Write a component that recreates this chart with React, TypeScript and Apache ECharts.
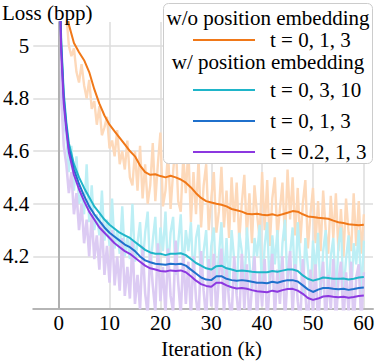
import React, { useEffect, useRef } from "react";
import * as echarts from "echarts";

// x positions (k iterations) of smoothed curves
const ITER_SMOOTH = [0, 0.5, 1, 1.5, 2, 3, 4, 5, 6, 7, 8, 9, 10, 11, 12, 13, 14, 15, 16, 17, 18, 19, 20,
  21, 22, 23, 24, 25, 26, 27, 28, 29, 30, 31, 32, 33, 34, 35, 36, 37, 38, 39, 40,
  41, 42, 43, 44, 45, 46, 47, 48, 49, 50, 51, 52, 53, 54, 55, 56, 57, 58, 59, 60];

const NOPOS_013 = [5.6, 5.45, 5.28, 5.16, 5.08, 5.01, 4.975, 4.945, 4.9, 4.835, 4.78, 4.735, 4.7, 4.675, 4.65, 4.625, 4.6, 4.58, 4.545, 4.52, 4.51, 4.512, 4.505,
  4.5, 4.506, 4.5, 4.492, 4.48, 4.462, 4.44, 4.422, 4.41, 4.405, 4.4, 4.396, 4.39, 4.38, 4.375, 4.37, 4.362, 4.36, 4.362, 4.358,
  4.356, 4.36, 4.355, 4.36, 4.366, 4.372, 4.37, 4.36, 4.352, 4.35, 4.347, 4.345, 4.343, 4.336, 4.33, 4.327, 4.322, 4.32, 4.318, 4.32];

const POS_0310 = [5.4, 5.02, 4.82, 4.71, 4.63, 4.55, 4.5, 4.46, 4.425, 4.39, 4.365, 4.34, 4.32, 4.305, 4.29, 4.28, 4.27, 4.255, 4.24, 4.225, 4.215, 4.21, 4.21,
  4.205, 4.21, 4.21, 4.212, 4.205, 4.19, 4.175, 4.165, 4.155, 4.15, 4.163, 4.165, 4.155, 4.15, 4.145, 4.147, 4.145, 4.142, 4.14, 4.14,
  4.14, 4.145, 4.142, 4.146, 4.15, 4.15, 4.145, 4.128, 4.115, 4.108, 4.113, 4.12, 4.118, 4.115, 4.115, 4.116, 4.112, 4.115, 4.12, 4.122];

const POS_013 = [5.38, 5.0, 4.8, 4.695, 4.61, 4.53, 4.475, 4.43, 4.39, 4.36, 4.335, 4.31, 4.29, 4.275, 4.26, 4.245, 4.235, 4.22, 4.2, 4.185, 4.178, 4.172, 4.17,
  4.168, 4.172, 4.17, 4.172, 4.165, 4.15, 4.135, 4.12, 4.112, 4.11, 4.125, 4.125, 4.115, 4.11, 4.108, 4.11, 4.108, 4.104, 4.1, 4.1,
  4.098, 4.104, 4.1, 4.106, 4.11, 4.11, 4.105, 4.09, 4.075, 4.065, 4.074, 4.08, 4.08, 4.077, 4.075, 4.077, 4.073, 4.076, 4.08, 4.082];

const POS_0213 = [5.36, 4.98, 4.78, 4.68, 4.595, 4.51, 4.455, 4.41, 4.37, 4.34, 4.31, 4.29, 4.27, 4.25, 4.235, 4.22, 4.21, 4.195, 4.18, 4.165, 4.155, 4.15, 4.145,
  4.143, 4.147, 4.145, 4.147, 4.14, 4.125, 4.108, 4.095, 4.088, 4.085, 4.1, 4.1, 4.09, 4.083, 4.078, 4.08, 4.077, 4.072, 4.068, 4.066,
  4.064, 4.07, 4.066, 4.072, 4.076, 4.077, 4.07, 4.058, 4.042, 4.035, 4.04, 4.048, 4.05, 4.047, 4.045, 4.047, 4.043, 4.046, 4.05, 4.052];

// raw (unsmoothed) losses, one value every 0.5k iterations from 0 to 60
const RAW_STEP = 0.5;
const NOPOS_013_RAW = [5.45, 5.32, 5.18, 5.12, 5.0, 4.96, 4.99, 4.9, 4.86, 4.93, 4.85, 4.8, 4.87, 4.76, 4.79, 4.7, 4.77, 4.66, 4.69, 4.73,
  4.61, 4.64, 4.58, 4.68, 4.55, 4.6, 4.53, 4.64, 4.5, 4.47, 4.6, 4.45, 4.62, 4.42, 4.55, 4.4, 4.47, 4.63, 4.41, 4.55,
  4.67, 4.39, 4.45, 4.6, 4.38, 4.52, 4.64, 4.41, 4.37, 4.58, 4.44, 4.61, 4.33, 4.52, 4.36, 4.57, 4.31, 4.47, 4.55, 4.3,
  4.42, 4.52, 4.29, 4.37, 4.54, 4.31, 4.45, 4.27, 4.5, 4.33, 4.48, 4.26, 4.4, 4.51, 4.28, 4.44, 4.25, 4.47, 4.36, 4.27,
  4.52, 4.3, 4.49, 4.24, 4.42, 4.5, 4.27, 4.38, 4.48, 4.26, 4.53, 4.34, 4.5, 4.28, 4.46, 4.25, 4.4, 4.49, 4.23, 4.36,
  4.46, 4.25, 4.41, 4.22, 4.45, 4.3, 4.21, 4.43, 4.27, 4.44, 4.22, 4.38, 4.2, 4.42, 4.29, 4.22, 4.44, 4.24, 4.41, 4.21, 4.36];

const POS_0310_RAW = [5.4, 4.92, 4.7, 4.66, 4.52, 4.62, 4.45, 4.58, 4.4, 4.44, 4.36, 4.55, 4.33, 4.47, 4.3, 4.36, 4.28, 4.45, 4.26, 4.34,
  4.24, 4.42, 4.23, 4.3, 4.21, 4.39, 4.2, 4.27, 4.19, 4.4, 4.18, 4.25, 4.33, 4.16, 4.29, 4.37, 4.14, 4.26, 4.35, 4.13,
  4.31, 4.22, 4.37, 4.14, 4.29, 4.35, 4.13, 4.25, 4.36, 4.14, 4.3, 4.22, 4.33, 4.11, 4.27, 4.32, 4.09, 4.22, 4.3, 4.08,
  4.24, 4.31, 4.09, 4.2, 4.33, 4.1, 4.27, 4.07, 4.3, 4.19, 4.06, 4.29, 4.22, 4.07, 4.31, 4.18, 4.06, 4.27, 4.2, 4.32,
  4.06, 4.24, 4.33, 4.07, 4.28, 4.17, 4.3, 4.06, 4.25, 4.34, 4.08, 4.21, 4.31, 4.07, 4.33, 4.19, 4.05, 4.27, 4.16, 4.04,
  4.26, 4.14, 4.29, 4.04, 4.22, 4.3, 4.05, 4.2, 4.27, 4.04, 4.24, 4.31, 4.06, 4.19, 4.28, 4.04, 4.25, 4.17, 4.3, 4.05, 4.26];

const POS_0213_RAW = [5.3, 4.8, 4.62, 4.55, 4.44, 4.52, 4.36, 4.44, 4.3, 4.4, 4.25, 4.34, 4.2, 4.36, 4.19, 4.28, 4.15, 4.33, 4.13, 4.24,
  4.1, 4.3, 4.09, 4.2, 4.07, 4.27, 4.05, 4.16, 4.04, 4.26, 4.02, 4.13, 4.0, 4.24, 4.06, 3.98, 4.22, 4.09, 3.99, 4.25,
  4.03, 4.16, 3.98, 4.23, 4.05, 3.99, 4.26, 4.1, 3.98, 4.21, 4.02, 4.18, 3.97, 4.2, 4.04, 3.96, 4.22, 4.07, 3.96, 4.19,
  4.01, 4.21, 3.97, 4.12, 4.23, 3.98, 4.16, 4.03, 3.96, 4.2, 4.05, 3.95, 4.21, 4.0, 4.17, 3.95, 4.08, 4.2, 3.96, 4.14,
  4.01, 4.19, 3.95, 4.1, 4.21, 3.97, 4.15, 4.02, 4.2, 3.96, 4.12, 4.22, 3.98, 4.17, 4.03, 3.95, 4.19, 4.06, 3.93, 4.15,
  3.98, 4.17, 3.93, 4.09, 4.18, 3.94, 4.13, 4.0, 4.19, 3.94, 4.11, 4.18, 3.95, 4.14, 3.99, 4.18, 3.93, 4.12, 4.17, 3.94, 4.14];

const X_TICKS = [0, 10, 20, 30, 40, 50, 60];
const LEGEND_HEADERS = ["w/o position embedding", "w/ position embedding"];
const LEGEND_LABELS = ["t = 0, 1, 3", "t = 0, 3, 10", "t = 0, 1, 3", "t = 0.2, 1, 3"];

const C_ORANGE = "#f07818";
const C_CYAN = "#1fb5c9";
const C_BLUE = "#1f70cc";
const C_PURPLE = "#8c38e0";
const C_ORANGE_L = "#fdd9ba";
const C_CYAN_L = "#bdeff5";
const C_PURPLE_L = "#dccbf3";

const FAMILY = "Liberation Serif";
const FS = 21;

const pairs = (xs: number[], ys: number[]) => ys.map((v, i) => [xs[i], v]);
const rawPairs = (ys: number[]) => ys.map((v, i) => [i * RAW_STEP, v]);

export default function App() {
  const ref = useRef<HTMLDivElement>(null);
  useEffect(() => {
    if (!ref.current) return;
    const chart = echarts.init(ref.current, undefined, { renderer: "svg" });
    const lineSeries = (name: string, data: number[][], color: string, width: number, z: number) => ({
      name,
      type: "line",
      data,
      showSymbol: false,
      symbol: "none",
      silent: true,
      z,
      lineStyle: { color, width },
      itemStyle: { color },
    });
    const txt = (text: string, x: number, y: number, align: string) => ({
      type: "text", z: 101, x, y, silent: true,
      style: { text, fontFamily: FAMILY, fontSize: FS, fill: "#000", textAlign: align, textVerticalAlign: "middle" },
    });
    const legendX1 = 193, legendX2 = 255, textX = 270;
    const legendRows = [
      { type: "h", text: LEGEND_HEADERS[0], y: 18 },
      { type: "l", text: LEGEND_LABELS[0], y: 40, color: C_ORANGE },
      { type: "h", text: LEGEND_HEADERS[1], y: 62 },
      { type: "l", text: LEGEND_LABELS[1], y: 90, color: C_CYAN },
      { type: "l", text: LEGEND_LABELS[2], y: 121, color: C_BLUE },
      { type: "l", text: LEGEND_LABELS[3], y: 152, color: C_PURPLE },
    ];
    const graphicEls: any[] = [
      // white backgrounds of the label margins (left strip, title area, bottom strip)
      { type: "rect", z: 50, silent: true, shape: { x: 0, y: 0, width: 30, height: 364 }, style: { fill: "#ffffff" } },
      { type: "rect", z: 50, silent: true, shape: { x: 0, y: 0, width: 160, height: 21 }, style: { fill: "#ffffff" } },
      { type: "rect", z: 50, silent: true, shape: { x: 0, y: 319, width: 379, height: 45 }, style: { fill: "#ffffff" } },
      {
        type: "rect",
        z: 100,
        shape: { x: 163.5, y: 3.5, width: 209, height: 160, r: 5 },
        style: { fill: "#ffffff", stroke: "#cccccc", lineWidth: 1 },
      },
    ];
    legendRows.forEach((r: any) => {
      if (r.type === "h") {
        graphicEls.push(txt(r.text, 268, r.y, "center"));
      } else {
        graphicEls.push({
          type: "line", z: 101,
          shape: { x1: legendX1, y1: r.y, x2: legendX2, y2: r.y },
          style: { stroke: r.color, lineWidth: 2 },
        });
        graphicEls.push(txt(r.text, textX, r.y, "left"));
      }
    });

    const xBase = { type: "value", min: -5, max: 61.8, splitNumber: 6, position: "bottom" };
    const yBase = { type: "value", min: 4.0, max: 5.09, interval: 0.2, position: "left" };

    chart.setOption({
      animation: false,
      textStyle: { fontFamily: FAMILY, fontSize: FS },
      title: {
        text: "Loss (bpp)",
        left: -3,
        top: -3,
        z: 101,
        textStyle: { fontFamily: FAMILY, fontSize: FS, fontWeight: "normal", color: "#000" },
      },
      grid: { left: 32, right: 6, top: 22, bottom: 47 },
      xAxis: [
        {
          ...xBase,
          axisLine: { show: true, lineStyle: { color: "#b5b5b5", width: 2 } },
          axisTick: { show: false },
          axisLabel: { show: false },
          splitLine: { show: true, showMinLine: false, showMaxLine: false, lineStyle: { color: "#dddddd", width: 1.5 } },
        },
        {
          ...xBase,
          z: 101,
          name: "Iteration (k)",
          nameLocation: "middle",
          nameGap: 27,
          nameTextStyle: { fontFamily: FAMILY, fontSize: FS, color: "#000", padding: [0, 0, 0, 17] },
          axisLine: { show: false },
          axisTick: { show: false },
          splitLine: { show: false },
          axisLabel: {
            fontFamily: FAMILY, fontSize: FS, color: "#000", margin: 3,
            showMinLabel: false, showMaxLabel: false,
            formatter: (v: number) => (X_TICKS.includes(v) ? String(v) : ""),
          },
        },
      ],
      yAxis: [
        {
          ...yBase,
          axisLine: { show: true, lineStyle: { color: "#b0b0b0", width: 2 } },
          axisTick: { show: false },
          axisLabel: { show: false },
          splitLine: { show: true, showMinLine: false, showMaxLine: false, lineStyle: { color: "#dddddd", width: 1.5 } },
        },
        {
          ...yBase,
          z: 101,
          axisLine: { show: false },
          axisTick: { show: false },
          splitLine: { show: false },
          axisLabel: {
            fontFamily: FAMILY, fontSize: FS, color: "#000", margin: 4,
            showMinLabel: false, showMaxLabel: false,
          },
        },
      ],
      graphic: graphicEls,
      series: [
        {
          name: "zero line",
          type: "line",
          data: [],
          silent: true,
          z: 0,
          markLine: {
            silent: true,
            symbol: "none",
            label: { show: false },
            lineStyle: { color: "#b0b0b0", width: 1.5, type: "solid" },
            data: [{ xAxis: 0 }],
          },
        },
        lineSeries("w/o pos t=0,1,3 (raw)", rawPairs(NOPOS_013_RAW), C_ORANGE_L, 2.4, 1),
        lineSeries("w/ pos t=0,3,10 (raw)", rawPairs(POS_0310_RAW), C_CYAN_L, 2.4, 2),
        lineSeries("w/ pos t=0.2,1,3 (raw)", rawPairs(POS_0213_RAW), C_PURPLE_L, 2.6, 3),
        lineSeries("w/o pos t=0,1,3", pairs(ITER_SMOOTH, NOPOS_013), C_ORANGE, 2, 5),
        lineSeries("w/ pos t=0,3,10", pairs(ITER_SMOOTH, POS_0310), C_CYAN, 2, 6),
        lineSeries("w/ pos t=0,1,3", pairs(ITER_SMOOTH, POS_013), C_BLUE, 2, 7),
        lineSeries("w/ pos t=0.2,1,3", pairs(ITER_SMOOTH, POS_0213), C_PURPLE, 2, 8),
      ],
    });
    return () => chart.dispose();
  }, []);
  return <div ref={ref} style={{ width: 379, height: 364, position: "absolute", left: 0, top: 0 }} />;
}
